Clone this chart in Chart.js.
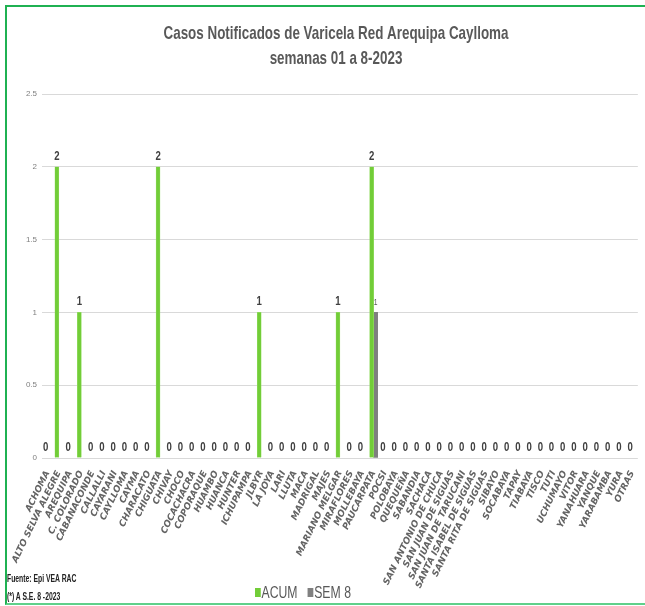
<!DOCTYPE html>
<html>
<head>
<meta charset="utf-8">
<script src="https://cdn.jsdelivr.net/npm/chart.js@4.4.1/dist/chart.umd.min.js"></script>
<style>
  body { margin: 0; background: #fff; }
  #wrap { position: relative; width: 645px; height: 606px; overflow: hidden; }
  #frame { position: absolute; left: 5px; top: 5px; width: 660px; height: 596px;
           border: 2px solid #1fb152; border-bottom-color: #5fd08a; pointer-events: none; }
  .note { position: absolute; left: 7px; font: bold 11px 'Liberation Sans', sans-serif; color: #222;
          transform: scaleX(0.62); transform-origin: 0 0; white-space: nowrap; }
  #legend { position: absolute; top: 583px; left: 255px; font: 17px 'Liberation Sans', sans-serif; color: #595959;
            transform: scaleX(0.72); transform-origin: 0 0; white-space: nowrap; }
  #legend span.box { display: inline-block; width: 8px; height: 9px; margin-right: 1px; vertical-align: 1px; }
</style>
</head>
<body>
<div id="wrap">
  <canvas id="chart" width="645" height="606"></canvas>
  <div id="frame"></div>
  <div class="note" style="top:572px">Fuente: Epi VEA RAC</div>
  <div class="note" style="top:590px">(*) A S.E. 8 -2023</div>
  <div id="legend"><span class="box" style="background:#72cd38"></span>ACUM&nbsp;&nbsp;&nbsp;<span class="box" style="background:#808080"></span>SEM 8</div>
</div>
<script>
const distritos = ['ACHOMA', 'ALTO SELVA ALEGRE', 'AREQUIPA', 'C. COLORADO', 'CABANACONDE', 'CALLALLI',
    'CAYARANI', 'CAYLLOMA', 'CAYMA', 'CHARACATO', 'CHIGUATA', 'CHIVAY', 'CHOCO', 'COCACHACRA',
    'COPORAQUE', 'HUAMBO', 'HUANCA', 'HUNTER', 'ICHUPAMPA', 'JLBYR', 'LA JOYA', 'LARI', 'LLUTA',
    'MACA', 'MADRIGAL', 'MAJES', 'MARIANO MELGAR', 'MIRAFLORES', 'MOLLEBAYA', 'PAUCARPATA', 'POCSI',
    'POLOBAYA', 'QUEQUEÑA', 'SABANDIA', 'SACHACA', 'SAN ANTONIO DE CHUCA', 'SAN JUAN DE SIGUAS',
    'SAN JUAN DE TARUCANI', 'SANTA ISABEL DE SIGUAS', 'SANTA RITA DE SIGUAS', 'SIBAYO', 'SOCABAYA',
    'TAPAY', 'TIABAYA', 'TISCO', 'TUTI', 'UCHUMAYO', 'VITOR', 'YANAHUARA', 'YANQUE', 'YARABAMBA',
    'YURA', 'OTRAS'];

// acumulado semanas 01 a 8
const acum = [0, 2, 0, 1, 0, 0, 0, 0, 0, 0, 2, 0, 0, 0, 0, 0, 0, 0, 0, 1, 0, 0, 0, 0, 0, 0, 1, 0, 0, 2,
    0, 0, 0, 0, 0, 0, 0, 0, 0, 0, 0, 0, 0, 0, 0, 0, 0, 0, 0, 0, 0, 0, 0];

// solo semana 8 (vacio donde no hay dato)
const sem8 = distritos.map(d => d === 'PAUCARPATA' ? 1 : null);

const yTicks = [0, 0.5, 1, 1.5, 2, 2.5];

const titleLines = ['Casos Notificados de Varicela Red Arequipa Caylloma', 'semanas 01 a 8-2023'];

const narrow = "'Liberation Sans', sans-serif";

// titulo comprimido (fuente tipo narrow)
const squeezedTitle = {
    id: 'squeezedTitle',
    afterDraw(chart) {
        const ctx = chart.ctx;
        ctx.save();
        ctx.font = 'bold 19px ' + narrow;
        ctx.fillStyle = '#595959';
        ctx.textAlign = 'center';
        ctx.textBaseline = 'middle';
        const sx = 345 / ctx.measureText(titleLines[0]).width;
        titleLines.forEach((t, i) => {
            ctx.save();
            ctx.translate(336, 34 + i * 25);
            ctx.scale(sx, 1);
            ctx.fillText(t, 0, 0);
            ctx.restore();
        });
        ctx.restore();
    }
};

// etiquetas encima de cada barra
const valueLabels = {
    id: 'valueLabels',
    afterDatasetsDraw(chart) {
        const ctx = chart.ctx;
        ctx.save();
        ctx.textAlign = 'center';
        ctx.textBaseline = 'alphabetic';
        chart.data.datasets.forEach((ds, i) => {
            const meta = chart.getDatasetMeta(i);
            meta.data.forEach((bar, j) => {
                const v = ds.data[j];
                if (v === null || v === undefined) return;
                ctx.save();
                ctx.translate(bar.x, bar.y - 7);
                if (i === 0) {
                    ctx.font = 'bold 12px ' + narrow;
                    ctx.fillStyle = '#404040';
                    ctx.scale(0.8, 1);
                } else {
                    ctx.font = '9px ' + narrow;
                    ctx.fillStyle = '#595959';
                    ctx.scale(0.75, 1);
                }
                ctx.fillText(v, 0, 0);
                ctx.restore();
            });
        });
        ctx.restore();
    }
};

new Chart(document.getElementById('chart'), {
    type: 'bar',
    data: {
        labels: distritos,
        datasets: [{
            label: 'ACUM',
            data: acum,
            backgroundColor: '#72cd38',
            borderColor: '#9fe070',
            borderWidth: 0.5,
            barThickness: 4
        }, {
            label: 'SEM 8',
            data: sem8,
            backgroundColor: '#7f7f7f',
            barThickness: 4
        }]
    },
    options: {
        responsive: false,
        animation: false,
        layout: { padding: { left: 6, right: 6, top: 94, bottom: 16 } },
        plugins: {
            legend: { display: false },
            tooltip: { enabled: false },
            title: { display: false }
        },
        scales: {
            y: {
                min: 0,
                max: 2.5,
                afterBuildTicks: s => { s.ticks = yTicks.map(v => ({ value: v })); },
                afterFit: s => { s.width = 36; },
                border: { display: false },
                grid: { color: '#d9d9d9', drawTicks: false },
                ticks: {
                    color: '#7f7f7f',
                    padding: 5,
                    font: { family: narrow, size: 8 },
                    callback: v => String(v)
                }
            },
            x: {
                afterFit: s => { s.height = 132; },
                border: { display: false },
                grid: { display: false },
                ticks: {
                    autoSkip: false,
                    maxRotation: 64,
                    minRotation: 64,
                    padding: 3,
                    color: '#636363',
                    font: { family: "'DejaVu Sans', sans-serif", size: 9, style: 'italic', weight: 'bold' }
                }
            }
        }
    },
    plugins: [valueLabels, squeezedTitle]
});
</script>
</body>
</html>
